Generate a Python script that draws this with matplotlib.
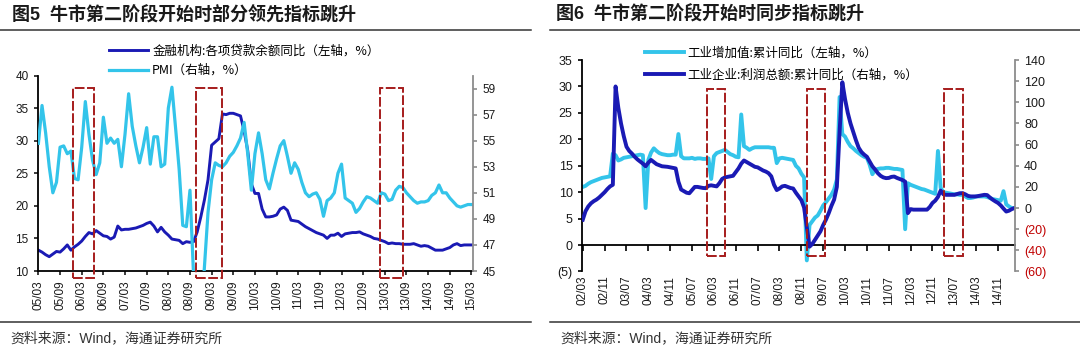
import matplotlib
matplotlib.use('Agg')
import matplotlib.pyplot as plt
import matplotlib.patches as patches
import pandas as pd

plt.rcParams['font.family'] = ['Liberation Sans', 'Noto Sans CJK SC']

# ---- fig 5: loans yoy (left axis) and PMI (right axis), monthly from 2005/03
fig5_start = '2005-03'
loan_yoy = [
    13.2, 12.9, 12.5, 12.2, 12.6, 13.0, 12.9, 13.4, 14.0, 13.2, 13.7, 14.1,
    14.6, 15.3, 15.9, 15.7, 16.2, 15.8, 15.4, 15.3, 14.9, 15.2, 16.9, 16.3,
    16.4, 16.4, 16.5, 16.6, 16.8, 17.0, 17.3, 17.5, 16.9, 16.0, 16.7, 16.0,
    15.5, 14.9, 14.8, 14.7, 14.2, 14.5, 14.4, 14.5, 16.0, 18.3, 20.9, 24.0,
    29.3, 29.8, 30.3, 34.1, 34.0, 34.2, 34.2, 34.0, 33.8, 31.5, 28.5, 23.4,
    21.9, 21.9, 19.5, 18.3, 18.3, 18.4, 18.6, 19.5, 19.8, 19.3, 17.8, 17.7,
    17.6, 17.2, 16.8, 16.5, 16.2, 15.9, 15.7, 15.5, 15.0, 15.5, 15.5, 15.8,
    15.3, 15.7, 15.8, 15.9, 15.9, 16.0, 15.7, 15.5, 15.3, 15.0, 14.9, 14.7,
    14.5, 14.2, 14.3, 14.2, 14.2, 14.1, 14.1, 14.1, 14.2, 14.0, 13.8, 13.9,
    13.8, 13.5, 13.2, 13.2, 13.2, 13.4, 13.6, 14.0, 14.2, 13.9, 14.0, 14.0,
    14.0]
pmi = [
    54.8, 57.7, 55.6, 53.0, 51.0, 51.8, 54.5, 54.6, 54.0, 54.2, 52.1, 52.0,
    54.5, 58.0, 55.5, 53.5, 52.4, 53.3, 56.8, 54.8, 55.2, 54.8, 55.1, 53.0,
    55.5, 58.6, 56.1, 54.6, 53.3, 54.5, 56.0, 53.2, 55.3, 55.3, 53.0, 53.2,
    57.5, 59.1, 56.0, 52.8, 48.5, 48.4, 51.2, 44.6, 38.8, 41.2, 45.3, 49.5,
    52.0, 53.3, 53.1, 53.0, 53.3, 53.8, 54.1, 54.6, 55.2, 56.4, 54.0, 51.2,
    54.0, 55.6, 54.0, 52.0, 51.3, 52.5, 53.6, 54.6, 55.0, 53.8, 52.5, 53.3,
    52.8, 51.8, 51.0, 50.7, 50.9, 51.0, 50.5, 49.2, 50.4, 50.6, 51.0, 52.5,
    53.2, 50.6, 50.4, 50.2, 49.5, 49.8, 50.3, 50.7, 50.6, 50.4, 50.2, 51.0,
    50.9, 50.4, 50.5, 51.2, 51.5, 51.4, 51.0, 50.7, 50.4, 50.2, 50.3, 50.3,
    50.4, 50.8, 51.0, 51.6, 51.0, 51.0, 50.6, 50.3, 50.0, 49.9, 50.0, 50.1,
    50.1]
fig5_boxes = [(9.5, 15.4), (43.7, 50.8), (94.6, 101.1)]  # highlighted months

# ---- fig 6: industrial value added (left) and profits (right), from 2002/03
fig6_start = '2002-03'
iva_yoy = [
    11.0, 11.2, 11.6, 11.9, 12.1, 12.3, 12.5, 12.7, 12.8, 12.9, 13.0, 17.3,
    17.0, 16.0, 16.2, 16.5, 16.6, 16.7, 16.8, 16.9, 17.0, 17.1, 17.0, 7.0,
    16.1, 17.5, 18.3, 17.8, 17.4, 17.2, 17.1, 17.0, 17.0, 17.1, 17.1, 21.0,
    16.8, 16.4, 16.4, 16.4, 16.5, 16.3, 16.4, 16.4, 16.3, 16.3, 16.4, 12.5,
    16.8, 17.4, 17.6, 17.8, 18.0, 17.6, 17.2, 17.0, 16.7, 16.6, 24.7, 18.7,
    18.4, 18.0, 18.3, 18.5, 18.5, 18.5, 18.5, 18.5, 18.5, 18.4, 18.4, 15.5,
    16.4, 16.5, 16.4, 16.3, 16.2, 16.1, 15.0, 14.5, 13.5, 12.8, -2.9, 3.8,
    4.5, 5.2, 5.6, 6.5, 7.5, 8.1, 8.8, 9.5, 10.5, 12.4, 28.0, 21.0,
    20.5, 19.5, 18.7, 18.3, 17.8, 17.4, 17.0, 16.7, 16.5, 15.2, 13.4, 14.2,
    14.4, 14.5, 14.5, 14.6, 14.6, 14.5, 14.4, 14.4, 14.3, 14.2, 3.0, 11.7,
    11.4, 11.2, 11.0, 10.8, 10.6, 10.5, 10.3, 10.1, 9.9, 9.7, 17.8, 10.8,
    10.0, 9.9, 9.8, 9.7, 9.6, 9.6, 9.5, 9.5, 9.2, 8.9, 8.9, 9.0,
    9.2, 9.2, 9.2, 9.2, 9.1, 8.9, 8.7, 8.6, 8.5, 8.4, 10.2, 7.7,
    7.3, 7.0, 7.0]
profit_yoy = [
    -11.0, -3.0, 1.5, 4.5, 6.5, 8.0, 10.0, 12.5, 15.0, 18.0, 20.5, 22.0,
    115.0, 95.0, 80.0, 68.0, 58.0, 54.0, 51.5, 48.5, 46.0, 44.0, 42.0, 39.5,
    43.0, 45.5, 43.5, 41.5, 40.5, 39.5, 39.3, 39.0, 38.5, 38.0, 37.5, 25.0,
    17.5, 16.0, 14.5, 14.0, 17.0, 20.0, 20.0, 19.5, 19.0, 18.8, 21.0, 21.5,
    21.0, 20.5, 23.5, 27.5, 29.0, 29.5, 30.0, 30.5, 34.0, 37.5, 42.0, 45.0,
    43.5, 42.0, 40.5, 39.0, 38.5, 37.0, 35.5, 34.5, 33.0, 30.0, 22.0, 17.0,
    18.5, 20.5, 21.0, 20.0, 19.0, 18.5, 14.5, 11.0, 7.5, 0.5, -18.0, -36.5,
    -34.0, -30.0, -26.0, -22.0, -16.0, -11.0, -5.0, 2.0, 8.0, 20.0, 72.0, 119.0,
    103.0, 90.0, 80.0, 72.0, 64.0, 57.0, 53.0, 50.5, 48.5, 44.0, 39.5, 36.5,
    33.0, 30.5, 29.0, 28.3, 28.5, 29.5, 29.8, 28.5, 27.5, 26.5, 25.0, -4.8,
    -1.0, -1.5, -1.5, -1.6, -1.6, -1.5, -1.5, 1.0, 4.8, 7.0, 10.5, 16.5,
    13.0, 12.5, 12.5, 12.5, 12.5, 13.2, 14.0, 14.1, 13.0, 11.5, 11.0, 11.0,
    11.0, 11.5, 12.0, 12.5, 12.3, 10.0, 8.0, 6.3, 4.8, 2.5, -0.5, -3.3,
    -2.5, -1.0, 0.0]
fig6_boxes = [(45.4, 52.1), (81.9, 88.6), (132.3, 139.0)]

DARK = '#1a1ab4'
LIGHT = '#33c4ea'
BOX = '#a61c1c'
NEG = '#c00000'
TXT = '#1a1a1a'
CJK = ['Noto Sans CJK SC', 'DejaVu Sans']


def add_boxes(ax, host, spans, y0, y1):
    for a, b in spans:
        r = patches.Rectangle((a, y0), b - a, y1 - y0, fill=False, ec=BOX,
                              lw=1.4, ls=(0, (5, 1.3)), clip_on=False,
                              transform=ax.transData, zorder=6)
        host.add_patch(r)


def paren(v):
    return f'({-v})' if v < 0 else str(v)


def color_neg(labels):
    for t in labels:
        if t.get_text().startswith('('):
            t.set_color(NEG)


def plot_fig5(fig):
    dates = pd.date_range(fig5_start, periods=len(loan_yoy), freq='MS')
    x = list(range(len(dates)))
    ax = fig.add_axes([0.0349, 0.2279, 0.4033, 0.557])
    ax2 = ax.twinx()
    l1, = ax.plot(x, loan_yoy, color=DARK, lw=2.1,
                  label='金融机构:各项贷款余额同比（左轴，%）')
    l2, = ax2.plot(x, pmi, color=LIGHT, lw=2.3, label='PMI（右轴，%）')
    ax.set_xlim(-0.2, 120.5)
    ax.set_ylim(10, 40)
    ax2.set_ylim(45, 60)
    ax.set_yticks(range(10, 41, 5))
    ax2.set_yticks(range(45, 60, 2))
    ax.set_xticks(x[::6], [d.strftime('%y/%m') for d in dates[::6]],
                  rotation=90)
    for s in ['top', 'right']:
        ax.spines[s].set_visible(False)
    ax2.spines['top'].set_visible(False)
    ax2.spines['left'].set_visible(False)
    ax2.spines['bottom'].set_visible(False)
    ax2.spines['right'].set_color('#8c8c8c')
    ax2.spines['right'].set_linewidth(1.3)
    ax.spines['left'].set_linewidth(1.3)
    ax.spines['bottom'].set_linewidth(1.3)
    ax.tick_params(axis='both', direction='out', length=3, width=1.2,
                   labelsize=8.5, colors=TXT)
    ax2.tick_params(axis='y', direction='out', length=3, width=1.2,
                    labelsize=8.5, colors='#8c8c8c', labelcolor=TXT)
    add_boxes(ax, ax2, fig5_boxes, 8.9, 38.1)
    fig.legend(handles=[l1, l2], loc='upper left',
               bbox_to_anchor=(0.101, 0.874), frameon=False, borderpad=0,
               borderaxespad=0, handlelength=3.1, handletextpad=0.35,
               labelspacing=0.55, prop={'family': CJK, 'size': 9})


def plot_fig6(fig):
    dates = pd.date_range(fig6_start, periods=len(iva_yoy), freq='MS')
    x = list(range(len(dates)))
    ax = fig.add_axes([0.5386, 0.2265, 0.4012, 0.6025])
    ax2 = ax.twinx()
    l1, = ax.plot(x, iva_yoy, color=LIGHT, lw=2.8,
                  label='工业增加值:累计同比（左轴，%）')
    l2, = ax2.plot(x, profit_yoy, color=DARK, lw=2.8,
                   label='工业企业:利润总额:累计同比（右轴，%）')
    ax.set_xlim(-0.4, 158.2)
    ax.set_ylim(-5, 35)
    ax2.set_ylim(-60, 140)
    lt = list(range(-5, 36, 5))
    ax.set_yticks(lt, [paren(v) for v in lt])
    rt = list(range(-60, 141, 20))
    ax2.set_yticks(rt, [paren(v) for v in rt])
    color_neg(ax.get_yticklabels())
    color_neg(ax2.get_yticklabels())

    ax.spines['bottom'].set_position(('data', 0))
    ax.spines['bottom'].set_linewidth(1.3)
    ax.spines['left'].set_linewidth(1.3)
    for s in ['top', 'right']:
        ax.spines[s].set_visible(False)
    for s in ['top', 'left', 'bottom']:
        ax2.spines[s].set_visible(False)
    ax2.spines['right'].set_color('#8c8c8c')
    ax2.spines['right'].set_linewidth(1.3)
    ax.set_xticks(x[::8])
    ax.tick_params(axis='x', direction='out', length=4, width=1.2,
                   labelbottom=False)
    ax.tick_params(axis='y', direction='out', length=3, width=1.2,
                   labelsize=9, labelcolor=TXT)
    ax2.tick_params(axis='y', direction='out', length=3, width=1.2,
                    labelsize=9, colors='#8c8c8c', labelcolor=TXT)
    color_neg(ax2.get_yticklabels())

    sec = ax.secondary_xaxis('bottom')
    sec.set_xticks(x[::8], [d.strftime('%y/%m') for d in dates[::8]],
                   rotation=90)
    sec.tick_params(length=0, pad=3, labelsize=8.5, labelcolor=TXT)
    sec.spines['bottom'].set_visible(False)

    add_boxes(ax, ax2, fig6_boxes, -2.0, 29.6)
    fig.legend(handles=[l1, l2], loc='upper left',
               bbox_to_anchor=(0.597, 0.868), frameon=False, borderpad=0,
               borderaxespad=0, handlelength=3.1, handletextpad=0.3,
               labelspacing=0.75, prop={'family': CJK, 'size': 9})


fig = plt.figure(figsize=(10.8, 3.51), dpi=100)
plot_fig5(fig)
plot_fig6(fig)

# titles, rules and sources
fig.text(12 / 1080, 1 - 14 / 351, '图5  牛市第二阶段开始时部分领先指标跳升',
         fontsize=13, fontweight='bold', va='center', color=TXT)
fig.text(556 / 1080, 1 - 14 / 351, '图6  牛市第二阶段开始时同步指标跳升',
         fontsize=13, fontweight='bold', va='center', color=TXT)
for x0, x1 in [(0, 531), (550, 1080)]:
    for yy in [30, 322]:
        fig.add_artist(plt.Line2D([x0 / 1080, x1 / 1080],
                                  [1 - yy / 351, 1 - yy / 351],
                                  transform=fig.transFigure, color='#333333',
                                  lw=1.1))
fig.text(10 / 1080, 1 - 338 / 351, '资料来源：Wind，海通证券研究所',
         fontsize=10, va='center', color='#333333')
fig.text(560 / 1080, 1 - 338 / 351, '资料来源：Wind，海通证券研究所',
         fontsize=10, va='center', color='#333333')

fig.savefig('out.png', dpi=100)
